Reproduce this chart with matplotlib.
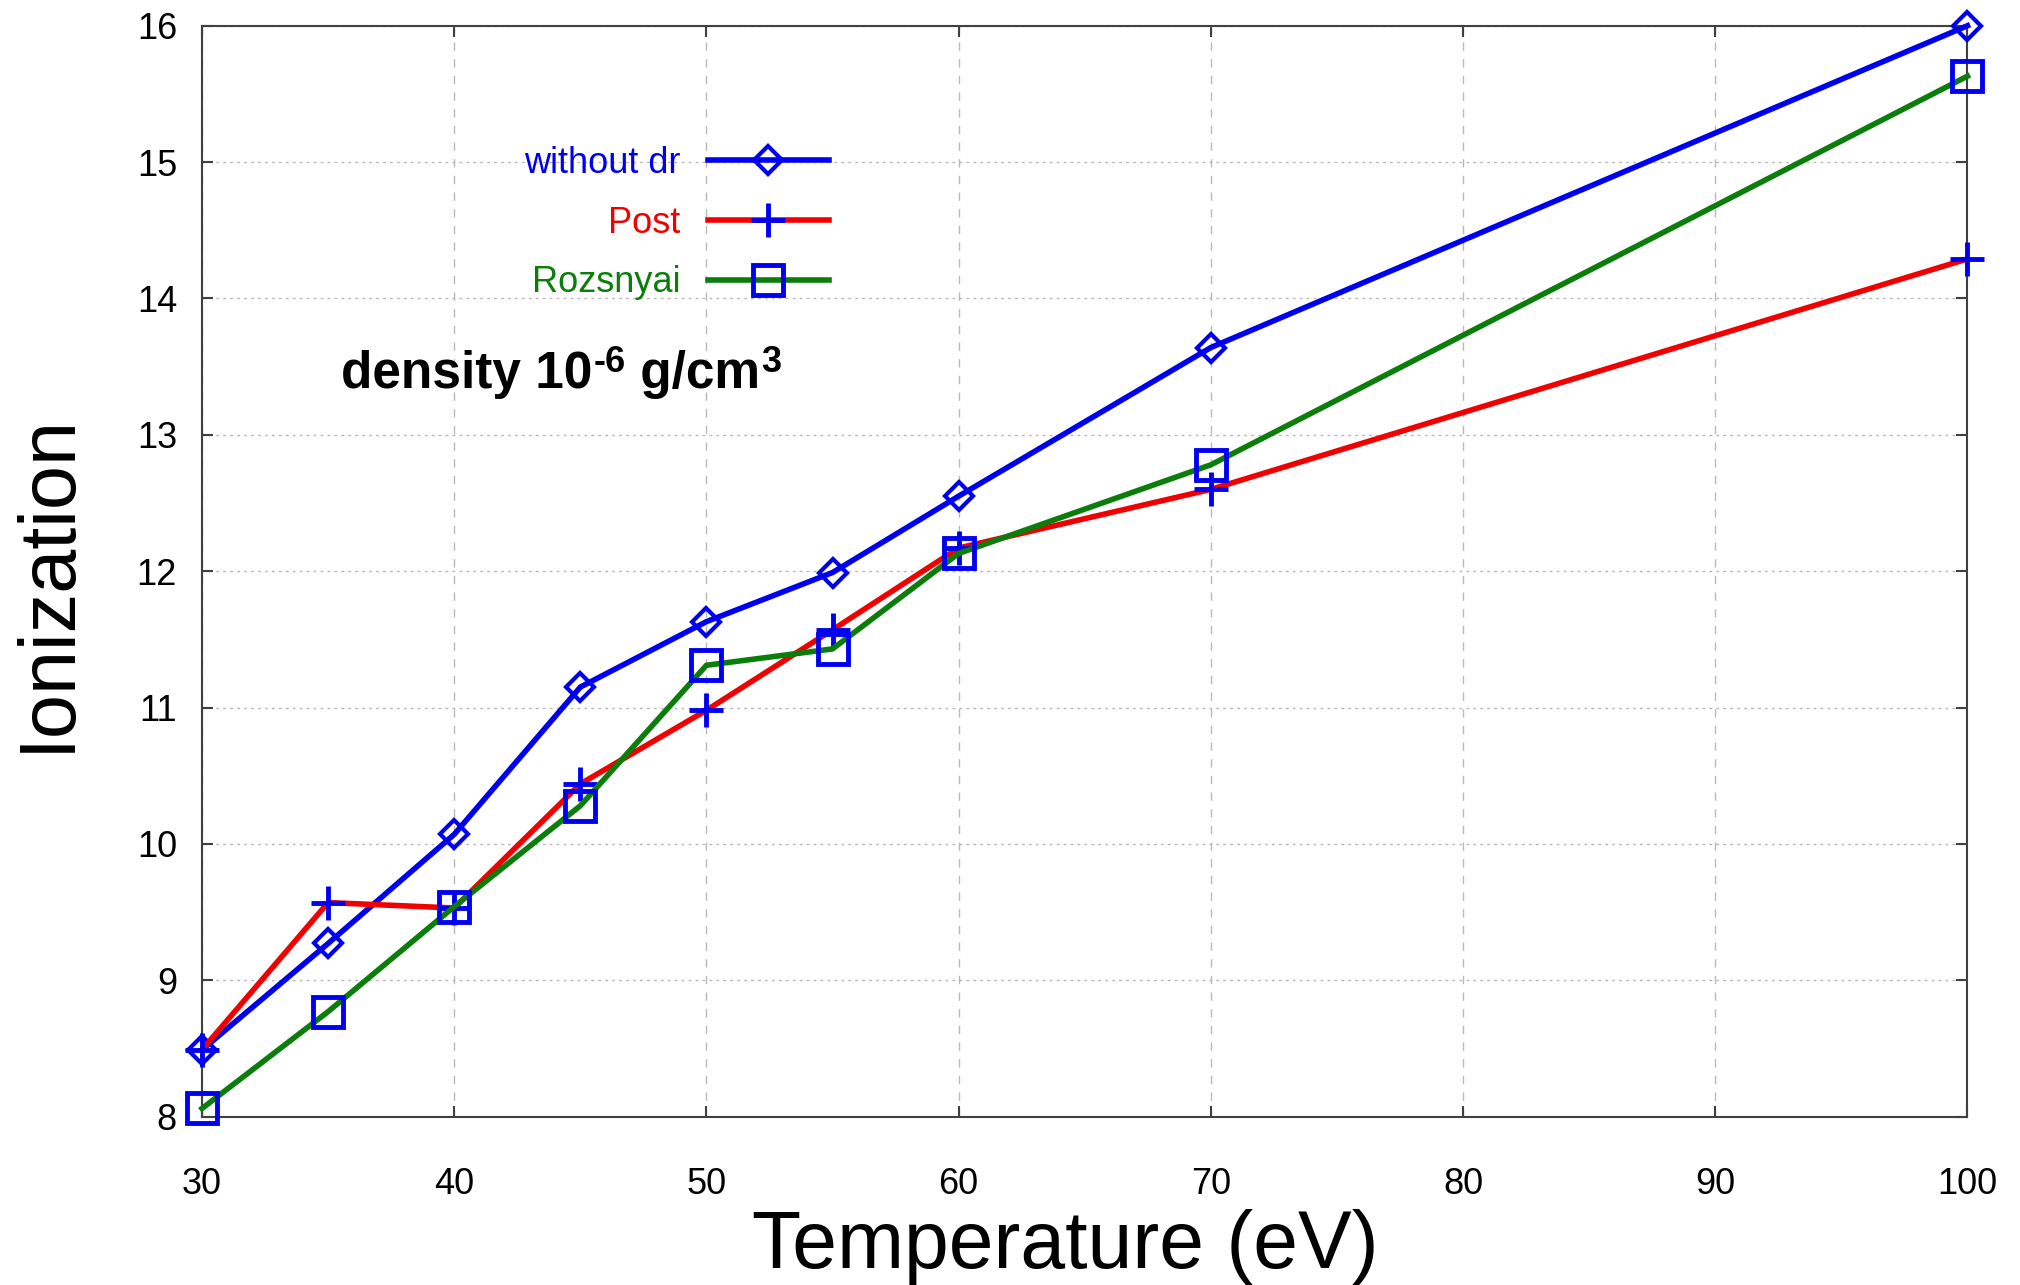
import matplotlib
matplotlib.use("Agg")
import matplotlib.pyplot as plt

plt.rcParams['font.family'] = ['Liberation Sans', 'DejaVu Sans']

temperature = [30, 35, 40, 45, 50, 55, 60, 70, 100]
without_dr = [8.49, 9.27, 10.07, 11.15, 11.63, 11.99, 12.55, 13.64, 16.0]
post = [8.49, 9.57, 9.53, 10.44, 10.98, 11.57, 12.17, 12.60, 14.29]
rozsnyai = [8.06, 8.77, 9.54, 10.28, 11.31, 11.43, 12.13, 12.78, 15.63]

xticks = [30, 40, 50, 60, 70, 80, 90, 100]
yticks = [8, 9, 10, 11, 12, 13, 14, 15, 16]

blue = '#0000f0'
red = '#f00000'
green = '#0a7d0a'

fig = plt.figure(figsize=(20.2, 12.85), dpi=100)
ax = fig.add_axes([0.1, 0.131, 0.874, 0.849])

ax.plot(temperature, without_dr, color=blue, lw=4, marker='D', ms=14,
        mfc='none', mec=blue, mew=3, label='without dr', zorder=3, clip_on=False)
ax.plot(temperature, post, color=red, lw=4, marker='+', ms=25,
        mec=blue, mew=3.5, label='Post', zorder=3, clip_on=False)
ax.plot(temperature, rozsnyai, color=green, lw=4, marker='s', ms=21,
        mfc='none', mec=blue, mew=3.5, label='Rozsnyai', zorder=3, clip_on=False)

ax.set_xlim(30, 100)
ax.set_ylim(8, 16)
ax.set_xticks(xticks)
ax.set_yticks(yticks)
ax.xaxis.grid(True, color='#b8b8b8', lw=1, linestyle=(0, (6, 6)))
ax.yaxis.grid(True, color='#b8b8b8', lw=1, linestyle=(0, (2, 3)))
ax.set_axisbelow(True)

ax.tick_params(direction='in', length=8, width=1.5, top=True, right=True,
               labelsize=26, color='#404040')
ax.tick_params(axis='x', pad=36)
ax.tick_params(axis='y', pad=18)
for s in ax.spines.values():
    s.set_color('#404040')
    s.set_linewidth(1.5)

ax.set_xlabel('Temperature (eV)', fontsize=58)
ax.set_ylabel('Ionization', fontsize=57)
ax.xaxis.set_label_coords(0.489, -0.085)
ax.yaxis.set_label_coords(-0.066, 0.49)

# density annotation with raised exponents
t1 = ax.text(0.0788, 0.668, 'density 10', transform=ax.transAxes,
             fontsize=37, fontweight='bold', ha='left', va='baseline')
t2 = ax.annotate('-6', xy=(1, 0.55), xycoords=t1, xytext=(1, 0),
                 textcoords='offset points', fontsize=26, fontweight='bold',
                 ha='left', va='baseline')
t3 = ax.annotate(' g/cm', xy=(1, 0), xycoords=(t2, t1), fontsize=37,
                 fontweight='bold', ha='left', va='bottom')
ax.annotate('3', xy=(1, 0.55), xycoords=t3, xytext=(1, 0),
            textcoords='offset points', fontsize=26, fontweight='bold',
            ha='left', va='baseline')

ax.legend(loc='center right', bbox_to_anchor=(0.355, 0.819), frameon=False,
          markerfirst=False, numpoints=1, fontsize=26, labelcolor='linecolor',
          handlelength=3.35, handletextpad=0.75, labelspacing=0.68,
          borderpad=0, borderaxespad=0)

fig.savefig('out.png', dpi=100)
